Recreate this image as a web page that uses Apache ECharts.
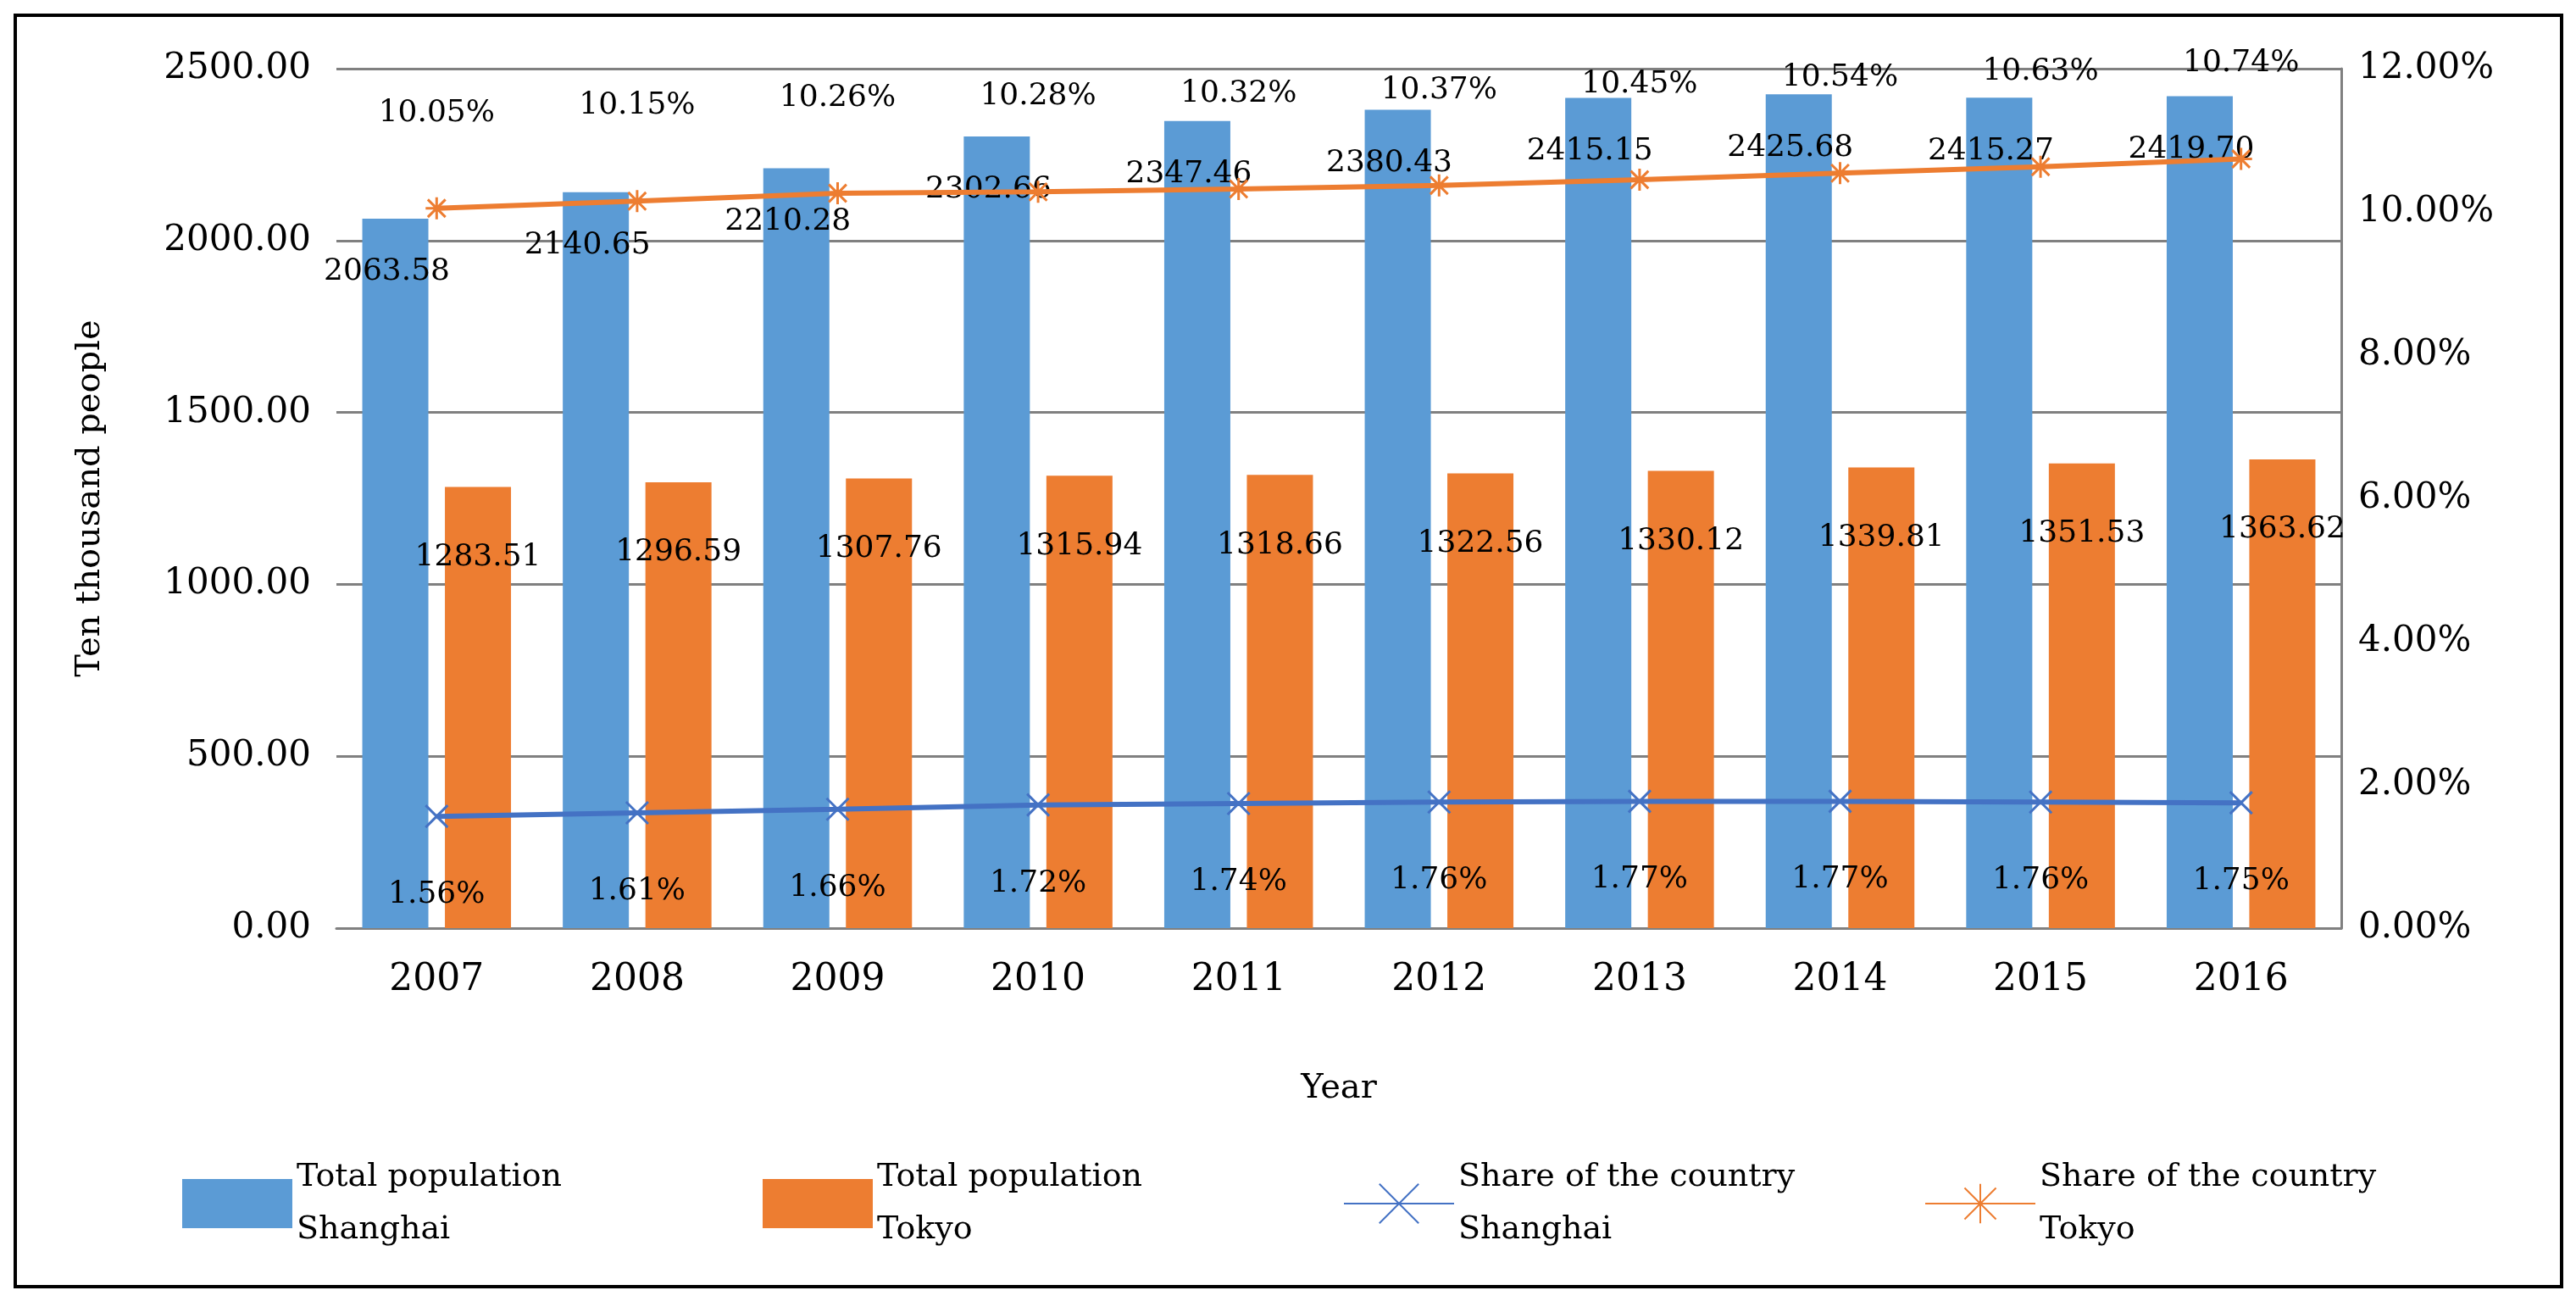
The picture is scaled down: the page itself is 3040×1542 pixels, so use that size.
<!DOCTYPE html>
<html><head><meta charset="utf-8">
<script src="https://cdn.jsdelivr.net/npm/echarts@6/dist/echarts.min.js"></script>
<style>html,body{margin:0;padding:0;background:#fff}#c{width:3040px;height:1542px}
#frame{position:absolute;left:16px;top:16px;width:3001px;height:1496px;border:4px solid #000;pointer-events:none}</style>
</head><body><div id="c"></div><div id="frame"></div>
<script>
const years=['2007','2008','2009','2010','2011','2012','2013','2014','2015','2016'];
const popShanghai=[2063.58,2140.65,2210.28,2302.66,2347.46,2380.43,2415.15,2425.68,2415.27,2419.70];
const popTokyo=[1283.51,1296.59,1307.76,1315.94,1318.66,1322.56,1330.12,1339.81,1351.53,1363.62];
const shareShanghai=[1.56,1.61,1.66,1.72,1.74,1.76,1.77,1.77,1.76,1.75];
const shareTokyo=[10.05,10.15,10.26,10.28,10.32,10.37,10.45,10.54,10.63,10.74];
const F='"DejaVu Serif", "Liberation Serif", serif';
const blue='#5b9bd5', orange='#ed7d31', lblue='#4472c4';
const xPath='path://M0,0L10,10M10,0L0,10';
const chart=echarts.init(document.getElementById('c'));
const lbl={fontFamily:F,fontSize:36,color:'#000'};
chart.setOption({
  textStyle:{fontFamily:F},
  grid:{left:397,right:277,top:81,bottom:447},
  legend:{bottom:55,left:210,itemWidth:130,itemHeight:58,itemGap:80,
    textStyle:{fontFamily:F,fontSize:38,color:'#000',lineHeight:62,width:470,align:'center'},
    data:[
      {name:'Total population\nShanghai',icon:'rect'},
      {name:'Total population\nTokyo',icon:'rect'},
      {name:'Share of the country\nShanghai'},
      {name:'Share of the country\nTokyo'}]},
  xAxis:{type:'category',data:years,name:'Year',nameLocation:'middle',nameGap:170,
    nameTextStyle:{fontFamily:F,fontSize:40,color:'#000'},
    axisLine:{lineStyle:{color:'#808080',width:3}},axisTick:{show:false},
    axisLabel:{fontFamily:F,fontSize:44,color:'#000',margin:40}},
  yAxis:[
    {type:'value',min:0,max:2500,interval:500,name:'Ten thousand people',nameLocation:'middle',nameGap:270,
     nameTextStyle:{fontFamily:F,fontSize:40,color:'#000'},
     axisLabel:{fontFamily:F,fontSize:42,color:'#000',formatter:v=>v.toFixed(2),margin:30},
     splitLine:{lineStyle:{color:'#808080',width:3}},axisLine:{show:false}},
    {type:'value',min:0,max:12,interval:2,
     axisLabel:{fontFamily:F,fontSize:42,color:'#000',formatter:v=>v.toFixed(2)+'%',margin:20},
     splitLine:{show:false},axisLine:{show:true,lineStyle:{color:'#808080',width:3}}}],
  series:[
    {name:'Total population\nShanghai',type:'bar',data:popShanghai,barWidth:78,barGap:'25%',itemStyle:{color:blue},
     label:{show:true,position:'insideTop',offset:[-10,40],...lbl,formatter:p=>p.value.toFixed(2)}},
    {name:'Total population\nTokyo',type:'bar',data:popTokyo,barWidth:78,itemStyle:{color:orange},
     label:{show:true,position:'insideTop',offset:[0,60],...lbl,formatter:p=>p.value.toFixed(2)}},
    {name:'Share of the country\nShanghai',type:'line',yAxisIndex:1,data:shareShanghai,symbol:xPath,symbolSize:26,
     lineStyle:{color:lblue,width:6},itemStyle:{color:lblue,borderColor:lblue,borderWidth:3},
     label:{show:true,position:'bottom',distance:60,...lbl,formatter:p=>p.value.toFixed(2)+'%'}},
    {name:'Share of the country\nTokyo',type:'line',yAxisIndex:1,data:shareTokyo,symbol:'path://M5,0L5,10M0,5L10,5M1,1L9,9M9,1L1,9',symbolSize:26,
     lineStyle:{color:orange,width:6},itemStyle:{color:orange,borderColor:orange,borderWidth:3},
     label:{show:true,position:'top',distance:80,...lbl,formatter:p=>p.value.toFixed(2)+'%'}}
  ]
});
</script></body></html>
